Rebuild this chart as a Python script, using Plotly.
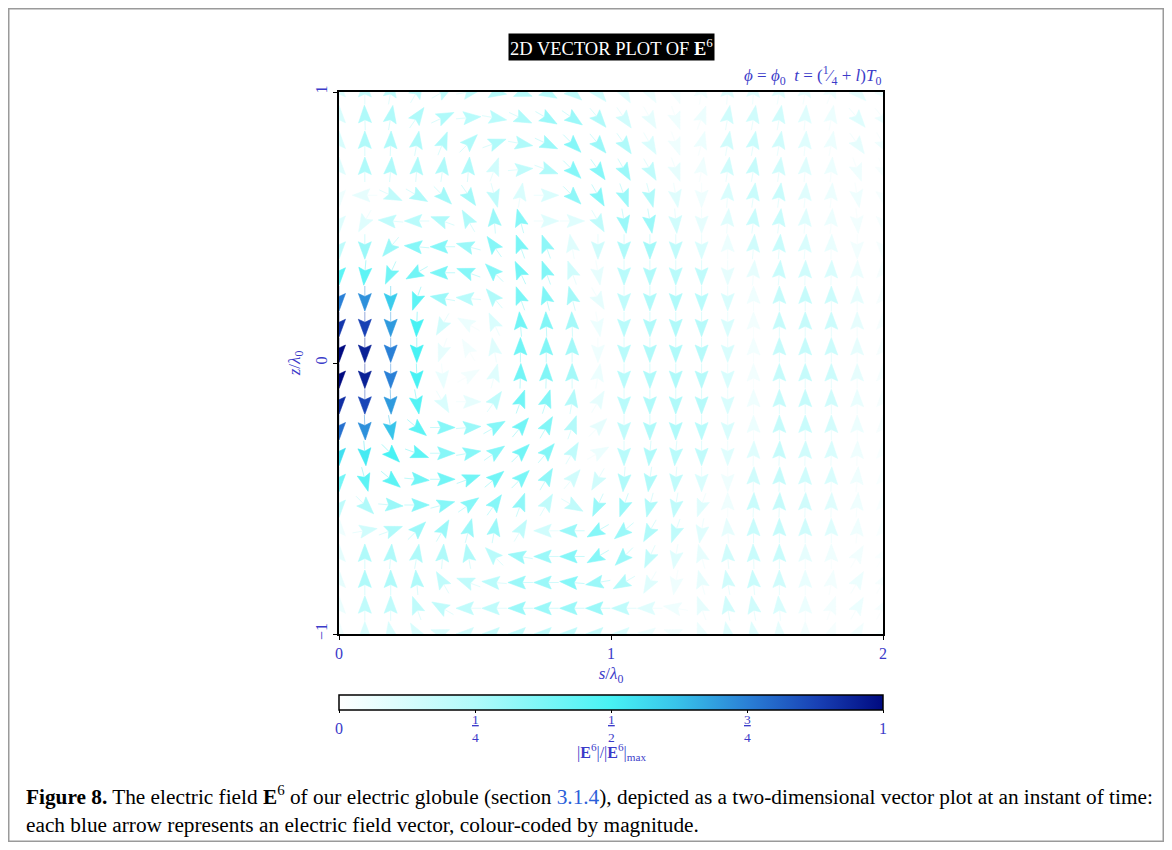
import math
import plotly.graph_objects as go
from plotly.colors import sample_colorscale

# ---------------- data ----------------
S_GRID = [0.0, 0.095, 0.19, 0.286, 0.381, 0.476, 0.571, 0.667, 0.762, 0.857, 0.952,
          1.048, 1.143, 1.238, 1.333, 1.429, 1.524, 1.619, 1.714, 1.81, 1.905, 2.0]
Z_GRID = [1.0, 0.905, 0.81, 0.714, 0.619, 0.524, 0.429, 0.333, 0.238, 0.143, 0.048,
          -0.048, -0.143, -0.238, -0.333, -0.429, -0.524, -0.619, -0.714, -0.81, -0.905, -1.0]

# direction of E (degrees, 0 = +s, 90 = +z), rows from z = 1 (top) to z = -1 (bottom)
ANGLE_DEG = [
    [90, 90, 80, 60, 30, 10, -10, -20, -30, -40, -50, -60, -60, -70, 80, 85, 85, 80, 80, 70, -45, -45],
    [90, 92, 80, 55, 25, 5, -10, -25, -30, -35, -50, -55, -60, -70, 70, 80, 80, 80, 85, 80, -50, -50],
    [90, 90, 88, 80, 68, 45, 20, -10, -25, -45, -50, -55, -60, -70, 75, 80, 80, 80, 85, 80, -55, -60],
    [90, 90, 85, 85, 82, 85, 70, 5, -20, -45, -55, -60, -60, -70, 80, 82, 80, 82, 85, 85, -70, -70],
    [-90, 180, -25, -30, -45, -55, -75, 80, 0, -45, -60, -70, -75, -80, -90, 85, 82, 82, 85, 85, -80, -80],
    [-90, -120, 175, 180, 160, 120, 95, 105, 0, 0, -60, -80, -80, -85, -90, 85, 82, 82, 85, 85, -85, -85],
    [-90, -90, -130, 175, 180, 165, 125, 110, 110, 100, -90, -90, -90, -90, -90, 90, 85, 85, 85, 88, -90, -90],
    [-90, -95, -115, -150, 180, 160, 135, 115, 110, 110, -80, -90, -90, -90, -90, -90, 85, 85, 88, 88, 88, 90],
    [-90, -90, -90, -110, 170, 175, 130, 110, 105, 105, -60, -90, -90, -90, -90, -90, 90, 90, 90, 90, 90, 90],
    [-90, -90, -90, -92, -120, 150, 115, 95, 92, 92, -80, -90, -90, -90, -90, -90, 90, 90, 90, 90, 90, 90],
    [-90, -90, -90, -90, -110, 120, 100, 90, 90, 90, -90, -90, -90, -90, -90, -90, 90, 90, 90, 90, 90, 90],
    [-90, -90, -90, -88, -85, 30, 75, 88, 88, 90, 80, -90, -90, -90, -90, -90, 90, 90, 90, 90, 90, 90],
    [-90, -90, -88, -80, -60, 0, 55, 70, 72, 80, 60, -90, -90, -90, -90, -90, 90, 90, 90, 90, 90, 90],
    [-90, -88, -80, -40, 0, 5, 30, 50, 60, 70, 45, -90, -90, -90, -90, -90, 90, 90, 90, 90, 90, 90],
    [-90, -85, -45, -20, 0, 10, 35, 45, 50, 60, 30, -90, -95, -95, -90, -90, 88, 88, 88, 88, 88, 90],
    [-90, -75, -40, -5, 0, 20, 40, 45, 60, 50, -120, -95, -98, -95, -90, -90, 88, 88, 88, 88, 85, 90],
    [-90, -45, -5, 0, 15, 35, 55, 70, 60, -30, -115, -110, -105, -100, -110, 90, 88, 88, 88, 88, 85, 90],
    [90, 10, 20, 45, 60, 75, 80, 60, 180, 180, -150, -140, -120, -110, -100, 95, 90, 90, 90, 90, 85, 90],
    [90, 90, 85, 80, 85, 100, 135, 170, 180, 180, -150, -135, -115, -100, 105, 95, 92, 90, 90, 90, 60, 60],
    [90, 90, 90, 95, 120, 160, 175, 180, 180, 175, -170, -150, -120, -100, 105, 100, 95, 90, 90, 80, 60, 60],
    [90, 90, 90, 110, 150, 180, 180, 180, 180, 180, 180, 180, 180, 170, 110, 100, 100, 95, 90, 70, 60, 60],
    [90, 90, 100, 120, 160, 180, 180, 180, 180, 180, 180, 180, 175, 160, 110, 100, 100, 95, 90, 70, 60, 60],
]

# |E6| / |E6|max, same layout as ANGLE_DEG
MAGNITUDE = [
    [0.10, 0.18, 0.20, 0.20, 0.20, 0.20, 0.22, 0.22, 0.22, 0.20, 0.15, 0.10, 0.06, 0.04, 0.05, 0.10, 0.10, 0.10, 0.08, 0.06, 0.08, 0.05],
    [0.12, 0.25, 0.25, 0.25, 0.25, 0.22, 0.22, 0.25, 0.30, 0.30, 0.25, 0.15, 0.08, 0.05, 0.06, 0.15, 0.15, 0.15, 0.10, 0.06, 0.10, 0.06],
    [0.12, 0.25, 0.25, 0.25, 0.25, 0.25, 0.25, 0.25, 0.30, 0.35, 0.30, 0.25, 0.12, 0.05, 0.06, 0.15, 0.17, 0.15, 0.10, 0.06, 0.08, 0.05],
    [0.10, 0.25, 0.25, 0.25, 0.25, 0.25, 0.15, 0.20, 0.25, 0.35, 0.35, 0.30, 0.20, 0.08, 0.05, 0.15, 0.18, 0.15, 0.10, 0.06, 0.05, 0.03],
    [0.05, 0.08, 0.20, 0.25, 0.28, 0.28, 0.20, 0.12, 0.12, 0.33, 0.35, 0.30, 0.25, 0.10, 0.05, 0.12, 0.17, 0.17, 0.10, 0.06, 0.05, 0.03],
    [0.10, 0.10, 0.20, 0.22, 0.25, 0.25, 0.30, 0.35, 0.10, 0.10, 0.20, 0.30, 0.30, 0.15, 0.08, 0.10, 0.17, 0.17, 0.10, 0.06, 0.04, 0.03],
    [0.20, 0.30, 0.30, 0.35, 0.35, 0.30, 0.35, 0.38, 0.33, 0.10, 0.15, 0.25, 0.28, 0.20, 0.12, 0.06, 0.15, 0.17, 0.12, 0.07, 0.04, 0.03],
    [0.45, 0.45, 0.40, 0.40, 0.38, 0.35, 0.35, 0.40, 0.36, 0.15, 0.08, 0.22, 0.25, 0.22, 0.20, 0.08, 0.08, 0.17, 0.15, 0.12, 0.06, 0.03],
    [0.75, 0.72, 0.60, 0.45, 0.30, 0.22, 0.25, 0.38, 0.36, 0.28, 0.08, 0.20, 0.25, 0.25, 0.22, 0.12, 0.05, 0.18, 0.18, 0.16, 0.08, 0.03],
    [0.90, 0.88, 0.70, 0.50, 0.15, 0.06, 0.12, 0.40, 0.36, 0.28, 0.06, 0.22, 0.25, 0.25, 0.23, 0.12, 0.04, 0.18, 0.18, 0.16, 0.08, 0.03],
    [1.00, 0.95, 0.75, 0.50, 0.08, 0.04, 0.10, 0.40, 0.36, 0.28, 0.05, 0.22, 0.25, 0.25, 0.23, 0.12, 0.04, 0.18, 0.18, 0.16, 0.08, 0.03],
    [1.00, 0.95, 0.75, 0.50, 0.07, 0.04, 0.10, 0.40, 0.36, 0.28, 0.06, 0.22, 0.25, 0.25, 0.23, 0.12, 0.04, 0.18, 0.18, 0.16, 0.08, 0.03],
    [0.92, 0.87, 0.70, 0.47, 0.12, 0.08, 0.20, 0.40, 0.36, 0.24, 0.08, 0.22, 0.25, 0.25, 0.23, 0.12, 0.05, 0.18, 0.18, 0.15, 0.07, 0.03],
    [0.78, 0.72, 0.62, 0.45, 0.35, 0.30, 0.35, 0.40, 0.36, 0.24, 0.08, 0.20, 0.25, 0.25, 0.22, 0.12, 0.06, 0.18, 0.17, 0.14, 0.06, 0.03],
    [0.55, 0.52, 0.50, 0.45, 0.35, 0.35, 0.35, 0.40, 0.36, 0.20, 0.06, 0.22, 0.25, 0.22, 0.20, 0.10, 0.10, 0.18, 0.15, 0.12, 0.05, 0.02],
    [0.40, 0.45, 0.45, 0.40, 0.40, 0.40, 0.40, 0.38, 0.33, 0.15, 0.15, 0.25, 0.25, 0.20, 0.12, 0.05, 0.15, 0.18, 0.15, 0.12, 0.05, 0.02],
    [0.20, 0.25, 0.30, 0.35, 0.35, 0.35, 0.35, 0.33, 0.20, 0.20, 0.30, 0.30, 0.25, 0.20, 0.10, 0.05, 0.17, 0.18, 0.15, 0.10, 0.05, 0.02],
    [0.05, 0.15, 0.25, 0.30, 0.30, 0.30, 0.30, 0.20, 0.15, 0.30, 0.35, 0.30, 0.25, 0.20, 0.10, 0.08, 0.17, 0.18, 0.15, 0.10, 0.05, 0.02],
    [0.08, 0.25, 0.25, 0.25, 0.25, 0.25, 0.22, 0.30, 0.30, 0.35, 0.35, 0.30, 0.20, 0.10, 0.08, 0.15, 0.17, 0.17, 0.08, 0.05, 0.04, 0.02],
    [0.08, 0.25, 0.25, 0.25, 0.20, 0.20, 0.22, 0.30, 0.30, 0.35, 0.30, 0.25, 0.10, 0.05, 0.08, 0.15, 0.17, 0.15, 0.07, 0.04, 0.06, 0.03],
    [0.06, 0.20, 0.20, 0.20, 0.20, 0.20, 0.20, 0.30, 0.30, 0.30, 0.30, 0.20, 0.10, 0.05, 0.08, 0.15, 0.15, 0.12, 0.06, 0.04, 0.06, 0.03],
    [0.04, 0.12, 0.12, 0.12, 0.12, 0.15, 0.18, 0.20, 0.20, 0.20, 0.18, 0.12, 0.06, 0.04, 0.06, 0.10, 0.10, 0.08, 0.04, 0.03, 0.04, 0.02],
]

X_TICKS = [0, 1, 2]
X_TICKTEXT = ["0", "1", "2"]
Y_TICKS = [-1, 0, 1]
Y_TICKTEXT = ["\u22121", "0", "1"]
CB_TICKS = [0, 0.25, 0.5, 0.75, 1]
CB_TICKTEXT = ["0", "<u>1</u><br>4", "<u>1</u><br>2", "<u>3</u><br>4", "1"]

# ---------------- styling ----------------
CSCALE = [[0.0, "rgb(255,255,255)"], [0.25, "rgb(176,250,250)"], [0.5, "rgb(72,242,244)"],
          [0.62, "rgb(56,196,234)"], [0.75, "rgb(42,128,214)"], [0.88, "rgb(24,64,180)"],
          [1.0, "rgb(0,10,128)"]]
BLUE = "#3b3bc9"
SERIF = "Liberation Serif, DejaVu Serif, serif"

OFF = 8                                   # page body margin of the browser
W_FIG, H_FIG = 1172 - 2 * OFF, 850 - 2 * OFF
PL, PR, PT, PB = 339 - OFF, 883 - OFF, 92 - OFF, 634 - OFF   # plot area (figure px)
px_s = (PR - PL) / 2.0                    # pixels per unit of s
px_z = (PB - PT) / 2.0                    # pixels per unit of z

L_ARROW = 25.0   # full arrow length (px)
H_HEAD = 17.5    # head length (px)
W_HEAD = 6.5     # half width of head (px)
N_NOTCH = 3.0    # notch depth (px)

fig = go.Figure()

heads = {}
shafts = {}
for r, zc in enumerate(Z_GRID):
    for c, sc in enumerate(S_GRID):
        m = MAGNITUDE[r][c]
        a = math.radians(ANGLE_DEG[r][c])
        dx, dy = math.cos(a), math.sin(a)
        nx, ny = -dy, dx

        def P(u, v):
            return (sc + (u * dx + v * nx) / px_s, zc + (u * dy + v * ny) / px_z)

        tip = P(L_ARROW / 2, 0)
        lft = P(L_ARROW / 2 - H_HEAD, W_HEAD)
        rgt = P(L_ARROW / 2 - H_HEAD, -W_HEAD)
        notch = P(L_ARROW / 2 - H_HEAD + N_NOTCH, 0)
        tail = P(-L_ARROW / 2, 0)
        key = round(m, 2)
        hx, hy = heads.setdefault(key, ([], []))
        for p in (tip, lft, notch, rgt, tip):
            hx.append(p[0]); hy.append(p[1])
        hx.append(None); hy.append(None)
        sx, sy = shafts.setdefault(key, ([], []))
        for p in (tail, notch):
            sx.append(p[0]); sy.append(p[1])
        sx.append(None); sy.append(None)

keys = sorted(heads.keys())
colors = dict(zip(keys, sample_colorscale(CSCALE, keys)))

for k in keys:
    sx, sy = shafts[k]
    fig.add_trace(go.Scatter(x=sx, y=sy, mode="lines",
                             line=dict(color=colors[k], width=1), opacity=0.45,
                             hoverinfo="skip", showlegend=False))
for k in keys:
    hx, hy = heads[k]
    fig.add_trace(go.Scatter(x=hx, y=hy, mode="lines", fill="toself",
                             fillcolor=colors[k], line=dict(color=colors[k], width=0.6),
                             hoverinfo="skip", showlegend=False))


def py_to_paper(py):
    return (PB - py) / (PB - PT)


def px_to_paper(px):
    return (px - PL) / (PR - PL)


# colour bar carrier (point lies outside the axis ranges)
fig.add_trace(go.Scatter(
    x=[-5], y=[-5], mode="markers", hoverinfo="skip", showlegend=False,
    marker=dict(size=1, color=[0.5], cmin=0, cmax=1, colorscale=CSCALE, showscale=True,
                colorbar=dict(orientation="h", lenmode="pixels", len=PR - PL,
                              thicknessmode="pixels", thickness=15, xpad=0, ypad=0,
                              x=0.5, xanchor="center", xref="paper",
                              y=py_to_paper(695 - OFF), yanchor="top", yref="paper",
                              outlinecolor="black", outlinewidth=1.5,
                              tickvals=CB_TICKS, showticklabels=False,
                              ticks="outside", ticklen=3, tickcolor="black"))))

fig.update_xaxes(range=[0, 2], tickvals=X_TICKS, ticktext=X_TICKTEXT,
                 showgrid=False, zeroline=False, showline=True, mirror=True,
                 linecolor="black", linewidth=2, ticks="outside", ticklen=4,
                 tickcolor="black", tickfont=dict(family=SERIF, size=16, color=BLUE),
                 title=dict(text="<i>s</i>/<i>λ</i><sub>0</sub>", standoff=6,
                            font=dict(family=SERIF, size=17, color=BLUE)))
fig.update_yaxes(range=[-1, 1], tickvals=Y_TICKS, ticktext=Y_TICKTEXT, tickangle=-90,
                 showgrid=False, zeroline=False, showline=True, mirror=True,
                 linecolor="black", linewidth=2, ticks="outside", ticklen=4,
                 tickcolor="black", tickfont=dict(family=SERIF, size=16, color=BLUE),
                 title=dict(text="<i>z</i>/<i>λ</i><sub>0</sub>", standoff=8,
                            font=dict(family=SERIF, size=17, color=BLUE)))

annotations = [
    dict(text="2D VECTOR PLOT OF <b>E</b><sup>6</sup>", x=0.5, y=py_to_paper(47 - OFF),
         xref="paper", yref="paper", xanchor="center", yanchor="middle", showarrow=False,
         bgcolor="black", borderpad=1, font=dict(family=SERIF, size=18.5, color="white")),
    dict(text="<i>ϕ</i> = <i>ϕ</i><sub>0</sub>\u00a0\u00a0<i>t</i> = (<sup>1</sup>⁄<sub>4</sub> + <i>l</i>)<i>T</i><sub>0</sub>",
         x=1.0, y=py_to_paper(75 - OFF), xref="paper", yref="paper", xanchor="right",
         yanchor="middle", showarrow=False, font=dict(family=SERIF, size=17, color=BLUE)),
    dict(text="|<b>E</b><sup>6</sup>|/|<b>E</b><sup>6</sup>|<sub>max</sub>",
         x=0.5, y=py_to_paper(752 - OFF), xref="paper", yref="paper",
         xanchor="center", yanchor="middle", showarrow=False,
         font=dict(family=SERIF, size=16, color=BLUE)),
    dict(text="<b>Figure 8.</b> The electric field <b>E</b><sup>6</sup> of our electric globule "
              "(section <span style='color:#2b5fd9'>3.1.4</span>), depicted as a two-dimensional "
              "vector plot at an instant of time:<br>each blue arrow represents an electric field "
              "vector, colour-coded by magnitude.",
         x=px_to_paper(24 - OFF), y=py_to_paper(780 - OFF), xref="paper", yref="paper",
         xanchor="left", yanchor="top", align="left", showarrow=False,
         font=dict(family=SERIF, size=21.3, color="black")),
]

# colour-bar tick labels (whole numbers larger, fractions stacked and smaller)
for v, t in zip(CB_TICKS, CB_TICKTEXT):
    is_frac = "<br>" in t
    annotations.append(dict(text=t, x=v, y=py_to_paper(728 - OFF), xref="paper", yref="paper",
                            xanchor="center", yanchor="middle", showarrow=False,
                            font=dict(family=SERIF, size=13.5 if is_frac else 16, color=BLUE)))

shapes = [
    dict(type="rect", xref="paper", yref="paper",
         x0=px_to_paper(0.75), x1=px_to_paper(W_FIG - 0.75),
         y0=py_to_paper(H_FIG - 0.75), y1=py_to_paper(0.75),
         line=dict(color="#9a9a9a", width=1.5), fillcolor="rgba(0,0,0,0)", layer="below"),
]

fig.update_layout(width=W_FIG, height=H_FIG, autosize=False,
                  margin=dict(l=PL, r=W_FIG - PR, t=PT, b=H_FIG - PB, pad=0),
                  plot_bgcolor="white", paper_bgcolor="white",
                  annotations=annotations, shapes=shapes)

fig.write_html("out.html")
